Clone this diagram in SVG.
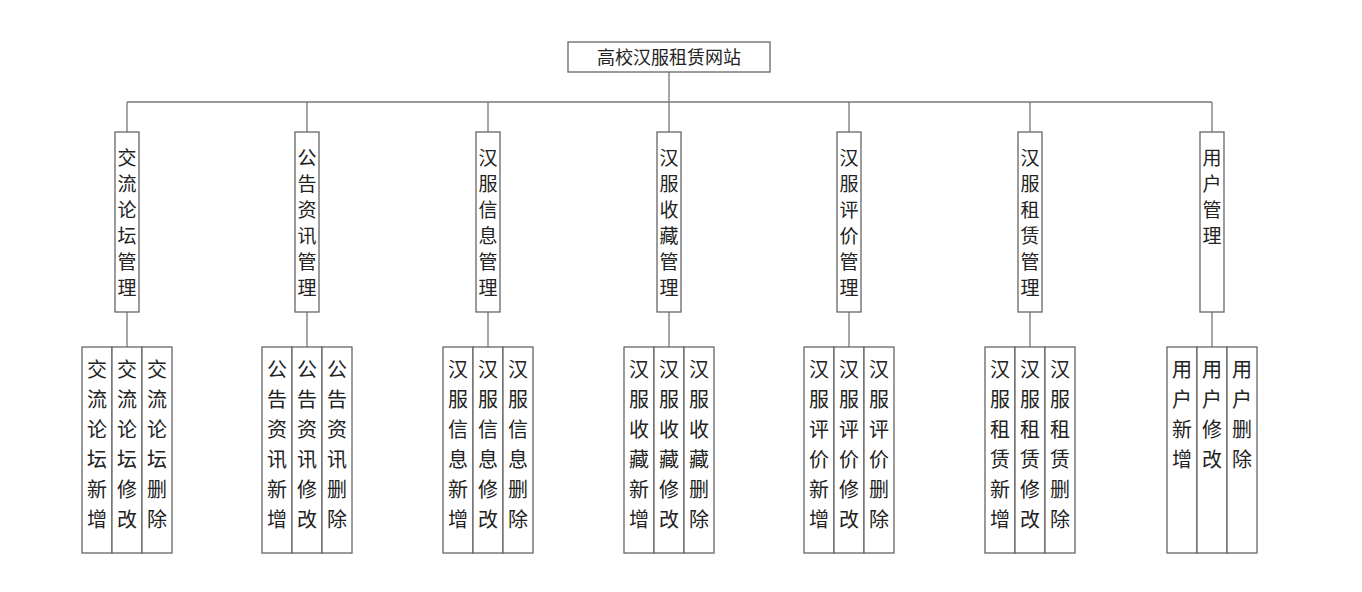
<svg xmlns="http://www.w3.org/2000/svg" width="1362" height="592" viewBox="0 0 1362 592">
<style>
rect{fill:#fff;stroke:#666;stroke-width:1.3}
.c line,.c path{stroke:#777;stroke-width:1.3;fill:none}
text{font-family:"Noto Sans CJK SC",sans-serif;fill:#222;text-anchor:middle}
.m{font-size:19px}
.l{font-size:20px}
</style>
<rect width="1362" height="592" style="fill:#fff;stroke:none"/>
<g class="c">
<line x1="669" y1="72" x2="669" y2="102"/>
<line x1="127" y1="102" x2="1212" y2="102"/>
<path d="M127 102V132M307 102V132M488 102V132M669 102V132M849 102V132M1030 102V132M1212 102V132"/>
<path d="M127 312V347M307 312V347M488 312V347M669 312V347M849 312V347M1030 312V347M1212 312V347"/>
</g>
<g id="root"><rect x="568" y="42" width="202" height="30"/><text x="669" y="64" style="font-size:18px">高校汉服租赁网站</text></g>
<g id="n1"><rect x="115" y="132" width="24" height="180"/><text class="m" x="127"><tspan x="127" y="165">交</tspan><tspan x="127" y="191">流</tspan><tspan x="127" y="217">论</tspan><tspan x="127" y="243">坛</tspan><tspan x="127" y="269">管</tspan><tspan x="127" y="295">理</tspan></text></g>
<g id="n2"><rect x="295" y="132" width="24" height="180"/><text class="m"><tspan x="307" y="165">公</tspan><tspan x="307" y="191">告</tspan><tspan x="307" y="217">资</tspan><tspan x="307" y="243">讯</tspan><tspan x="307" y="269">管</tspan><tspan x="307" y="295">理</tspan></text></g>
<g id="n3"><rect x="476" y="132" width="24" height="180"/><text class="m"><tspan x="488" y="165">汉</tspan><tspan x="488" y="191">服</tspan><tspan x="488" y="217">信</tspan><tspan x="488" y="243">息</tspan><tspan x="488" y="269">管</tspan><tspan x="488" y="295">理</tspan></text></g>
<g id="n4"><rect x="657" y="132" width="24" height="180"/><text class="m"><tspan x="669" y="165">汉</tspan><tspan x="669" y="191">服</tspan><tspan x="669" y="217">收</tspan><tspan x="669" y="243">藏</tspan><tspan x="669" y="269">管</tspan><tspan x="669" y="295">理</tspan></text></g>
<g id="n5"><rect x="837" y="132" width="24" height="180"/><text class="m"><tspan x="849" y="165">汉</tspan><tspan x="849" y="191">服</tspan><tspan x="849" y="217">评</tspan><tspan x="849" y="243">价</tspan><tspan x="849" y="269">管</tspan><tspan x="849" y="295">理</tspan></text></g>
<g id="n6"><rect x="1018" y="132" width="24" height="180"/><text class="m"><tspan x="1030" y="165">汉</tspan><tspan x="1030" y="191">服</tspan><tspan x="1030" y="217">租</tspan><tspan x="1030" y="243">赁</tspan><tspan x="1030" y="269">管</tspan><tspan x="1030" y="295">理</tspan></text></g>
<g id="n7"><rect x="1200" y="132" width="24" height="180"/><text class="m"><tspan x="1212" y="165">用</tspan><tspan x="1212" y="191">户</tspan><tspan x="1212" y="217">管</tspan><tspan x="1212" y="243">理</tspan></text></g>
<g id="leaves" class="l">
<g id="g1"><rect x="82" y="347" width="30" height="206"/><rect x="112" y="347" width="30" height="206"/><rect x="142" y="347" width="30" height="206"/>
<text><tspan x="97" y="377">交</tspan><tspan x="97" y="407">流</tspan><tspan x="97" y="437">论</tspan><tspan x="97" y="467">坛</tspan><tspan x="97" y="497">新</tspan><tspan x="97" y="527">增</tspan></text>
<text><tspan x="127" y="377">交</tspan><tspan x="127" y="407">流</tspan><tspan x="127" y="437">论</tspan><tspan x="127" y="467">坛</tspan><tspan x="127" y="497">修</tspan><tspan x="127" y="527">改</tspan></text>
<text><tspan x="157" y="377">交</tspan><tspan x="157" y="407">流</tspan><tspan x="157" y="437">论</tspan><tspan x="157" y="467">坛</tspan><tspan x="157" y="497">删</tspan><tspan x="157" y="527">除</tspan></text></g>
<g id="g2"><rect x="262" y="347" width="30" height="206"/><rect x="292" y="347" width="30" height="206"/><rect x="322" y="347" width="30" height="206"/>
<text><tspan x="277" y="377">公</tspan><tspan x="277" y="407">告</tspan><tspan x="277" y="437">资</tspan><tspan x="277" y="467">讯</tspan><tspan x="277" y="497">新</tspan><tspan x="277" y="527">增</tspan></text>
<text><tspan x="307" y="377">公</tspan><tspan x="307" y="407">告</tspan><tspan x="307" y="437">资</tspan><tspan x="307" y="467">讯</tspan><tspan x="307" y="497">修</tspan><tspan x="307" y="527">改</tspan></text>
<text><tspan x="337" y="377">公</tspan><tspan x="337" y="407">告</tspan><tspan x="337" y="437">资</tspan><tspan x="337" y="467">讯</tspan><tspan x="337" y="497">删</tspan><tspan x="337" y="527">除</tspan></text></g>
<g id="g3"><rect x="443" y="347" width="30" height="206"/><rect x="473" y="347" width="30" height="206"/><rect x="503" y="347" width="30" height="206"/>
<text><tspan x="458" y="377">汉</tspan><tspan x="458" y="407">服</tspan><tspan x="458" y="437">信</tspan><tspan x="458" y="467">息</tspan><tspan x="458" y="497">新</tspan><tspan x="458" y="527">增</tspan></text>
<text><tspan x="488" y="377">汉</tspan><tspan x="488" y="407">服</tspan><tspan x="488" y="437">信</tspan><tspan x="488" y="467">息</tspan><tspan x="488" y="497">修</tspan><tspan x="488" y="527">改</tspan></text>
<text><tspan x="518" y="377">汉</tspan><tspan x="518" y="407">服</tspan><tspan x="518" y="437">信</tspan><tspan x="518" y="467">息</tspan><tspan x="518" y="497">删</tspan><tspan x="518" y="527">除</tspan></text></g>
<g id="g4"><rect x="624" y="347" width="30" height="206"/><rect x="654" y="347" width="30" height="206"/><rect x="684" y="347" width="30" height="206"/>
<text><tspan x="639" y="377">汉</tspan><tspan x="639" y="407">服</tspan><tspan x="639" y="437">收</tspan><tspan x="639" y="467">藏</tspan><tspan x="639" y="497">新</tspan><tspan x="639" y="527">增</tspan></text>
<text><tspan x="669" y="377">汉</tspan><tspan x="669" y="407">服</tspan><tspan x="669" y="437">收</tspan><tspan x="669" y="467">藏</tspan><tspan x="669" y="497">修</tspan><tspan x="669" y="527">改</tspan></text>
<text><tspan x="699" y="377">汉</tspan><tspan x="699" y="407">服</tspan><tspan x="699" y="437">收</tspan><tspan x="699" y="467">藏</tspan><tspan x="699" y="497">删</tspan><tspan x="699" y="527">除</tspan></text></g>
<g id="g5"><rect x="804" y="347" width="30" height="206"/><rect x="834" y="347" width="30" height="206"/><rect x="864" y="347" width="30" height="206"/>
<text><tspan x="819" y="377">汉</tspan><tspan x="819" y="407">服</tspan><tspan x="819" y="437">评</tspan><tspan x="819" y="467">价</tspan><tspan x="819" y="497">新</tspan><tspan x="819" y="527">增</tspan></text>
<text><tspan x="849" y="377">汉</tspan><tspan x="849" y="407">服</tspan><tspan x="849" y="437">评</tspan><tspan x="849" y="467">价</tspan><tspan x="849" y="497">修</tspan><tspan x="849" y="527">改</tspan></text>
<text><tspan x="879" y="377">汉</tspan><tspan x="879" y="407">服</tspan><tspan x="879" y="437">评</tspan><tspan x="879" y="467">价</tspan><tspan x="879" y="497">删</tspan><tspan x="879" y="527">除</tspan></text></g>
<g id="g6"><rect x="985" y="347" width="30" height="206"/><rect x="1015" y="347" width="30" height="206"/><rect x="1045" y="347" width="30" height="206"/>
<text><tspan x="1000" y="377">汉</tspan><tspan x="1000" y="407">服</tspan><tspan x="1000" y="437">租</tspan><tspan x="1000" y="467">赁</tspan><tspan x="1000" y="497">新</tspan><tspan x="1000" y="527">增</tspan></text>
<text><tspan x="1030" y="377">汉</tspan><tspan x="1030" y="407">服</tspan><tspan x="1030" y="437">租</tspan><tspan x="1030" y="467">赁</tspan><tspan x="1030" y="497">修</tspan><tspan x="1030" y="527">改</tspan></text>
<text><tspan x="1060" y="377">汉</tspan><tspan x="1060" y="407">服</tspan><tspan x="1060" y="437">租</tspan><tspan x="1060" y="467">赁</tspan><tspan x="1060" y="497">删</tspan><tspan x="1060" y="527">除</tspan></text></g>
<g id="g7"><rect x="1167" y="347" width="30" height="206"/><rect x="1197" y="347" width="30" height="206"/><rect x="1227" y="347" width="30" height="206"/>
<text><tspan x="1182" y="377">用</tspan><tspan x="1182" y="407">户</tspan><tspan x="1182" y="437">新</tspan><tspan x="1182" y="467">增</tspan></text>
<text><tspan x="1212" y="377">用</tspan><tspan x="1212" y="407">户</tspan><tspan x="1212" y="437">修</tspan><tspan x="1212" y="467">改</tspan></text>
<text><tspan x="1242" y="377">用</tspan><tspan x="1242" y="407">户</tspan><tspan x="1242" y="437">删</tspan><tspan x="1242" y="467">除</tspan></text></g>
</g>
</svg>
